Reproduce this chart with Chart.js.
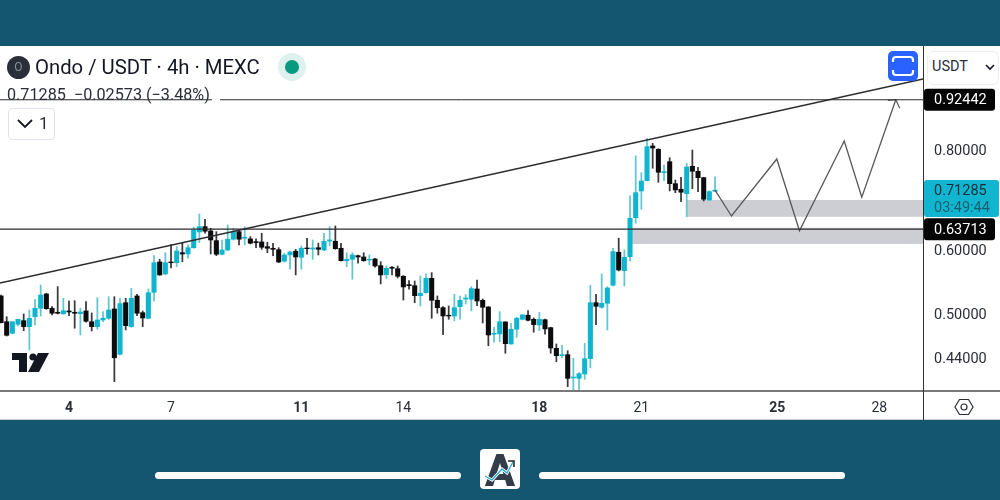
<!DOCTYPE html>
<html>
<head>
<meta charset="utf-8">
<title>Ondo / USDT</title>
<script src="https://cdn.jsdelivr.net/npm/chart.js@4/dist/chart.umd.min.js"></script>
<style>
html,body{margin:0;padding:0;width:1000px;height:500px;overflow:hidden;background:#14566f;font-family:Roboto,sans-serif;color:#131722;}
#panel{position:absolute;left:0;top:46px;width:1000px;height:374px;background:#fff;}
#c{position:absolute;left:0;top:0;}
.abs{position:absolute;}
#title{left:35px;top:55px;font-size:20.3px;line-height:24px;white-space:nowrap;}
#quote{left:7px;top:86px;font-size:16.2px;line-height:18px;white-space:nowrap;color:#2a2e39;}
#gap{left:212px;top:97px;width:8px;height:5px;background:#fff;}
#coin{left:7px;top:56px;width:23px;height:23px;border-radius:50%;background:#2a2e39;color:#8a8f9c;font-size:12px;line-height:23px;text-align:center;}
#halo{left:278px;top:53px;width:28px;height:28px;border-radius:50%;background:#dff1ee;}
#dot{left:285px;top:60px;width:14px;height:14px;border-radius:50%;background:#089981;}
#legendBox{left:8px;top:108px;width:45px;height:30px;border:1px solid #e0e3eb;border-radius:4px;background:#fff;}
#legendNum{left:39px;top:113px;font-size:17px;line-height:20px;color:#2a2e39;}
#full{left:888px;top:51px;width:30px;height:30px;border-radius:5px;background:#2962ff;}
#cur{left:927px;top:51px;width:70px;height:32px;border:1px solid #eceef2;border-radius:6px;background:#fff;}
#curTxt{left:932px;top:58px;font-size:14.5px;line-height:18px;color:#2a2e39;}
#vline{left:923px;top:46px;width:1px;height:374px;background:#333;}
#hline{left:0;top:389.5px;width:1000px;height:2px;background:#787878;}
#foot{left:0;top:419px;width:1000px;height:1px;background:#c8cdd2;}
.pill{top:472px;height:7px;border-radius:4px;background:#fff;}
#logo{left:480px;top:449px;width:40px;height:40px;}
</style>
</head>
<body>
<div id="panel" class="abs"></div>
<div id="hline" class="abs"></div>
<div id="foot" class="abs"></div>
<canvas id="c" width="1000" height="500"></canvas>
<div id="vline" class="abs"></div>
<div id="gap" class="abs"></div>

<div id="coin" class="abs">O</div>
<div id="title" class="abs">Ondo / USDT · 4h · MEXC</div>
<div id="halo" class="abs"></div>
<div id="dot" class="abs"></div>
<div id="quote" class="abs">0.71285&nbsp; −0.02573 (−3.48%)</div>
<div id="legendBox" class="abs"></div>
<svg class="abs" style="left:16px;top:118px" width="18" height="12"><polyline points="2,2 9,9 16,2" fill="none" stroke="#131722" stroke-width="1.8"/></svg>
<div id="legendNum" class="abs">1</div>

<div id="full" class="abs"></div>
<svg class="abs" style="left:888px;top:51px" width="30" height="30" fill="none" stroke="#fff" stroke-width="2.2">
  <path d="M5 11V9a3 3 0 0 1 3-3h14a3 3 0 0 1 3 3v2M5 19v2a3 3 0 0 0 3 3h14a3 3 0 0 0 3-3v-2"/>
</svg>
<div id="cur" class="abs"></div>
<div id="curTxt" class="abs">USDT</div>
<svg class="abs" style="left:985px;top:64px" width="10" height="7"><polyline points="1,1 5,5 9,1" fill="none" stroke="#131722" stroke-width="1.6"/></svg>
<svg class="abs" style="left:954px;top:397px" width="20" height="20" fill="none" stroke="#2a2e39" stroke-width="1.2">
  <polygon points="5.5,2.5 14.5,2.5 19,10 14.5,17.5 5.5,17.5 1,10"/><circle cx="10" cy="10" r="3"/>
</svg>
<svg class="abs" style="left:11px;top:352px" width="40" height="22" fill="#131722">
  <path d="M1 1H16V20H8V8H1Z"/><circle cx="22" cy="5" r="3.6"/><path d="M27 1H38L28 20H17Z"/>
</svg>

<div class="abs pill" style="left:155px;width:306px"></div>
<div class="abs pill" style="left:539px;width:306px"></div>
<svg id="logo" class="abs" viewBox="0 0 40 40">
  <rect width="40" height="40" rx="4" fill="#fff"/>
  <text x="20" y="37" text-anchor="middle" font-family="Roboto" font-weight="900" font-size="44" fill="#333d4a">A</text>
  <polyline points="5,27 12,31 22,20 27,24 33,13" fill="none" stroke="#fff" stroke-width="3"/>
  <polyline points="5,27 12,31 22,20 27,24 33,13" fill="none" stroke="#2aa7d8" stroke-width="1.3"/>
  <polyline points="28,12 34,12 34,18" fill="none" stroke="#222" stroke-width="1.5"/>
</svg>

<script>
var opens=[
0.5257,0.4882,0.4722,0.4846,0.4896,0.4813,0.4953,0.5074,0.5287,0.5074,
0.5016,0.4992,0.5035,0.5016,0.4996,0.5035,0.4882,0.4813,0.4906,0.4930,
0.5064,0.4445,0.5156,0.4813,0.5257,0.5010,0.4930,0.5313,0.5797,0.5601,
0.5797,0.5785,0.5954,0.5932,0.6040,0.6320,0.6417,0.6338,0.6164,0.5927,
0.6000,0.6189,0.6325,0.6207,0.6194,0.6146,0.6141,0.6058,0.6030,0.6005,
0.5809,0.5915,0.5978,0.5876,0.6035,0.6018,0.6040,0.6000,0.6158,0.6153,
0.6030,0.5818,0.5842,0.5903,0.5881,0.5830,0.5847,0.5736,0.5589,0.5710,
0.5686,0.5564,0.5431,0.5415,0.5261,0.5307,0.5531,0.5192,0.5083,0.4973,
0.4963,0.5098,0.5211,0.5207,0.5364,0.5192,0.5093,0.4709,0.4713,0.4878,
0.4579,0.4777,0.4916,0.4973,0.4916,0.4836,0.4910,0.4799,0.4522,0.4427,
0.4440,0.4152,0.4148,0.4200,0.4389,0.5156,0.5089,0.5147,0.5421,0.5961,
0.5654,0.5886,0.6585,0.7111,0.7324,0.8093,0.8016,0.7495,0.7736,0.7262,
0.7146,0.7056,0.7634,0.7525,0.7388,0.6929,0.7105];
var closes=[
0.4868,0.4695,0.4882,0.4916,0.4813,0.4930,0.5074,0.5272,0.5068,0.5002,
0.5002,0.5039,0.5020,0.5002,0.5020,0.4888,0.4813,0.4906,0.4930,0.5049,
0.4401,0.5142,0.4827,0.5222,0.5002,0.4935,0.5307,0.5785,0.5585,0.5785,
0.5785,0.5983,0.5932,0.6040,0.6356,0.6417,0.6333,0.6176,0.5927,0.6000,
0.6189,0.6325,0.6189,0.6225,0.6118,0.6128,0.6048,0.6030,0.6012,0.5797,
0.5915,0.5966,0.5881,0.6030,0.6023,0.6035,0.6012,0.6153,0.6176,0.6023,
0.5818,0.5842,0.5915,0.5881,0.5818,0.5842,0.5731,0.5585,0.5693,0.5693,
0.5564,0.5395,0.5415,0.5261,0.5298,0.5531,0.5192,0.5083,0.4963,0.4963,
0.5083,0.5192,0.5226,0.5369,0.5181,0.5089,0.4699,0.4722,0.4882,0.4583,
0.4777,0.4930,0.4978,0.4902,0.4841,0.4916,0.4781,0.4526,0.4427,0.4440,
0.4148,0.4164,0.4204,0.4389,0.5156,0.5103,0.5147,0.5379,0.5971,0.5665,
0.5876,0.6573,0.7076,0.7318,0.8077,0.8047,0.7504,0.7517,0.7262,0.7131,
0.7085,0.7619,0.7525,0.7388,0.6943,0.7097,0.7129];
var highs=[
0.5272,0.4953,0.4882,0.4916,0.4992,0.5049,0.5207,0.5426,0.5298,0.5098,
0.5400,0.5222,0.5181,0.5186,0.5074,0.5171,0.5006,0.5231,0.5025,0.5246,
0.5246,0.5222,0.5222,0.5374,0.5283,0.5035,0.5364,0.5903,0.5842,0.5954,
0.6093,0.6058,0.6128,0.6088,0.6406,0.6656,0.6554,0.6387,0.6325,0.6176,
0.6449,0.6387,0.6356,0.6417,0.6235,0.6194,0.6297,0.6136,0.6118,0.6040,
0.5944,0.5983,0.6012,0.6070,0.6207,0.6176,0.6118,0.6297,0.6417,0.6430,
0.6118,0.5954,0.5954,0.5915,0.5954,0.5915,0.5859,0.5802,0.5731,0.5720,
0.5731,0.5573,0.5493,0.5488,0.5568,0.5601,0.5622,0.5257,0.5098,0.5108,
0.5283,0.5257,0.5277,0.5400,0.5504,0.5211,0.5098,0.4805,0.5025,0.4882,
0.4860,0.4945,0.4987,0.5039,0.4935,0.5016,0.4920,0.4805,0.4579,0.4562,
0.4491,0.4394,0.4216,0.4588,0.5421,0.5283,0.5601,0.5400,0.6030,0.6207,
0.6000,0.7010,0.7864,0.7495,0.8274,0.8156,0.8030,0.7663,0.7825,0.7339,
0.7397,0.7700,0.8000,0.7612,0.7397,0.7117,0.7408];
var lows=[
0.4864,0.4685,0.4713,0.4823,0.4757,0.4500,0.4836,0.4963,0.5059,0.4978,
0.4992,0.4992,0.4967,0.4791,0.4699,0.4874,0.4753,0.4777,0.4882,0.4916,
0.4108,0.4436,0.4767,0.4805,0.4967,0.4813,0.4920,0.5181,0.5580,0.5585,
0.5698,0.5720,0.5802,0.5859,0.6030,0.6128,0.6297,0.5932,0.5903,0.5915,
0.5988,0.6176,0.6088,0.6088,0.6106,0.6040,0.6012,0.5954,0.5903,0.5785,
0.5797,0.5677,0.5585,0.5677,0.5927,0.5842,0.5915,0.5988,0.6070,0.6012,
0.5813,0.5720,0.5515,0.5776,0.5809,0.5748,0.5710,0.5442,0.5531,0.5585,
0.5536,0.5196,0.5359,0.5156,0.5108,0.5298,0.4930,0.5002,0.4703,0.4916,
0.4896,0.4916,0.5137,0.5035,0.5112,0.4864,0.4556,0.4601,0.4609,0.4458,
0.4575,0.4668,0.4906,0.4892,0.4736,0.4757,0.4709,0.4458,0.4351,0.4401,
0.4050,0.4011,0.4011,0.4136,0.4277,0.4841,0.5074,0.4767,0.5410,0.5649,
0.5410,0.5813,0.6480,0.6746,0.7318,0.7590,0.7291,0.7324,0.7111,0.7076,
0.6896,0.6604,0.7158,0.7097,0.6909,0.6915,0.7097];

var tickIdx=[12,30,53,71,95,113,137,155];
var tickLabels=['4','7','11','14','18','21','25','28'];
var boldTicks=['4','11','18','25'];
var priceTicks=[0.8,0.6,0.5,0.44];
var xMin=-0.18, xMax=162.7, yMin=0.4011, yMax=1.079;

var trendX=[xMin,xMax], trendY=[0.5456,0.9815];
var upperLevel=0.92442, lowerLevel=0.63713, lastPrice=0.71285;
var zoneAX=[120.9,xMax], zoneATop=0.6929, zoneABottom=0.6604;
var zoneBX=[111.3,xMax], zoneBTop=0.6398, zoneBBottom=0.6105;
var pathX=[126,128.9,136.9,140.9,148.8,151.9,157.9];
var pathY=[0.7129,0.6617,0.7796,0.6342,0.821,0.6983,0.9244];
var arrowX=[156.5,157.9,158.6];
var arrowY=[0.9225,0.9244,0.902];

var TEAL='#0fb5cf', TEALW='#62c6d0', BLACK='#0c0c0e', BLACKW='#3a3a3e', LINE='#2b2b2f', PATH='#58585c';

function xy(xs,ys){return xs.map(function(x,i){return {x:x,y:ys[i]};});}
function up(i){return closes[i]>=opens[i];}
function lineDs(data,color,w,order){return {type:'line',data:data,borderColor:color,borderWidth:w,pointRadius:0,tension:0,fill:false,order:order};}
function zoneDs(xs,top,bottom){return {type:'line',data:xs.map(function(x){return {x:x,y:top};}),borderWidth:0,pointRadius:0,fill:{value:bottom},backgroundColor:'#cdced3',order:6};}
function box(ctx,x,y,w,h,r,color){ctx.fillStyle=color;ctx.beginPath();ctx.roundRect(x,y,w,h,r);ctx.fill();}

// axis labels and price tags on the right, placed by the y scale
var tags={
  id:'tags',
  afterDraw:function(chart){
    var ctx=chart.ctx, sy=chart.scales.y, y;
    ctx.save();
    ctx.font='14.5px Roboto';ctx.textBaseline='middle';ctx.textAlign='left';
    ctx.fillStyle='#2a2e39';
    priceTicks.forEach(function(p){ctx.fillText(p.toFixed(5),934,sy.getPixelForValue(p)+1.5);});
    [upperLevel,lowerLevel].forEach(function(p){
      y=sy.getPixelForValue(p);
      box(ctx,924,y-11,71,22,3,'#050505');
      ctx.fillStyle='#fff';ctx.fillText(p.toFixed(5),934,y+1);
    });
    y=sy.getPixelForValue(lastPrice);
    box(ctx,924,y-10,75,37,3,'#12b5d0');
    ctx.fillStyle='#12303c';ctx.fillText(lastPrice.toFixed(5),934,y+1);
    ctx.fillStyle='#14606f';ctx.fillText('03:49:44',934,y+18.5);
    ctx.restore();
  }
};

new Chart(document.getElementById('c'),{
  type:'bar',
  data:{datasets:[
    {data:opens.map(function(o,i){return {x:i,y:[lows[i],highs[i]]};}),barThickness:1.1,grouped:false,order:3,
     backgroundColor:opens.map(function(o,i){return up(i)?TEALW:BLACKW;})},
    {data:opens.map(function(o,i){return {x:i,y:[o,closes[i]]};}),barThickness:4.4,grouped:false,order:2,
     backgroundColor:opens.map(function(o,i){return up(i)?TEAL:BLACK;})},
    zoneDs(zoneAX,zoneATop,zoneABottom),
    zoneDs(zoneBX,zoneBTop,zoneBBottom),
    lineDs(xy([xMin,xMax],[upperLevel,upperLevel]),LINE,1,1),
    lineDs(xy([xMin,xMax],[lowerLevel,lowerLevel]),LINE,1.3,1),
    lineDs(xy(trendX,trendY),LINE,1.4,1),
    lineDs(xy(pathX,pathY),PATH,1.3,1),
    lineDs(xy(arrowX,arrowY),PATH,1.2,1)
  ]},
  plugins:[tags],
  options:{
    responsive:false,animation:false,devicePixelRatio:1,
    layout:{padding:{left:0,top:46,right:0,bottom:80}},
    plugins:{legend:{display:false},tooltip:{enabled:false}},
    scales:{
      x:{type:'linear',min:xMin,max:xMax,offset:false,
        grid:{display:false,drawTicks:false},border:{display:false},
        afterBuildTicks:function(s){s.ticks=tickIdx.map(function(v){return {value:v};});},
        afterFit:function(s){s.height=30;},
        ticks:{autoSkip:false,maxRotation:0,padding:10,
          color:'#2a2e39',
          font:function(c){var t=c.tick?tickLabels[tickIdx.indexOf(c.tick.value)]:'';return {family:'Roboto',size:14,weight:boldTicks.indexOf(t)>=0?'bold':'normal'};},
          callback:function(v){return tickLabels[tickIdx.indexOf(v)];}}
      },
      y:{type:'logarithmic',position:'right',min:yMin,max:yMax,
        grid:{display:false},border:{display:false},
        afterBuildTicks:function(s){s.ticks=priceTicks.map(function(v){return {value:v};});},
        afterFit:function(s){s.width=77;},
        ticks:{display:false}
      }
    }
  }
});
</script>
</body>
</html>
